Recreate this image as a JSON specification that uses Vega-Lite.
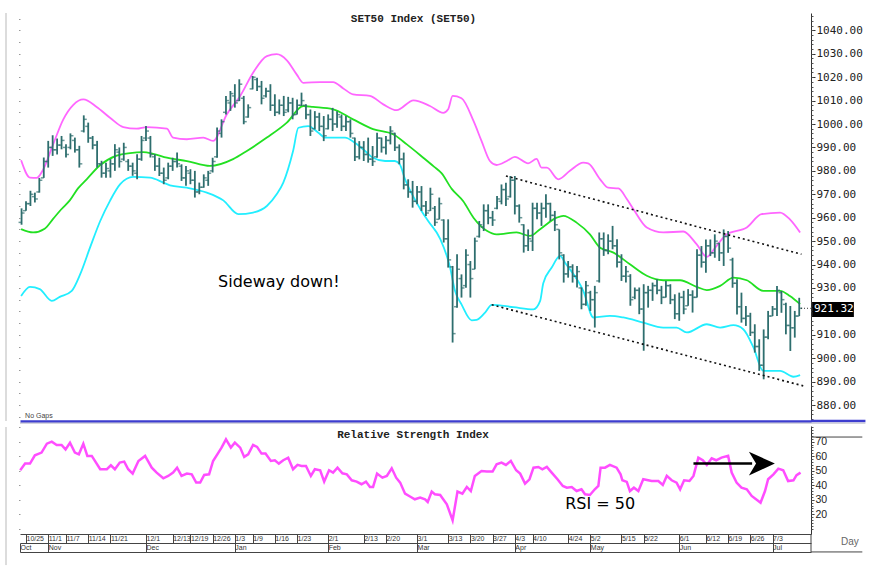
{
"$schema": "https://vega.github.io/schema/vega-lite/v6.json",
"background": "white",
"padding": {"left": 5, "top": 12, "right": 5, "bottom": 2},
"spacing": 2,
"config": {"view": {"stroke": null}, "axis": {"grid": false}},
"datasets": {
"ohlc": [
{"i":0,"o":958,"h":964,"l":957,"c":962},{"i":1,"o":963,"h":967,"l":963,"c":966},{"i":2,"o":966,"h":971.5,"l":965,"c":970},{"i":3,"o":969,"h":970.7,"l":966.5,"c":968},{"i":4,"o":971,"h":977,"l":970.7,"c":976},{"i":5,"o":977,"h":985.7,"l":977,"c":984},{"i":6,"o":984,"h":992.8,"l":981.4,"c":990},{"i":7,"o":990,"h":995.2,"l":986.4,"c":989},{"i":8,"o":989,"h":993.8,"l":987,"c":991},{"i":9,"o":991,"h":994.9,"l":989.2,"c":993},
{"i":10,"o":990,"h":991.4,"l":985.7,"c":987},{"i":11,"o":990,"h":996,"l":989.2,"c":995},{"i":12,"o":993,"h":994.2,"l":987.8,"c":989},{"i":13,"o":989,"h":990.7,"l":981.4,"c":983},{"i":14,"o":997,"h":1003.7,"l":996.4,"c":1002},{"i":15,"o":999,"h":1000.6,"l":992,"c":994},{"i":16,"o":994,"h":994.9,"l":989.2,"c":991},{"i":17,"o":991,"h":992.8,"l":981.4,"c":983},{"i":18,"o":983,"h":984.3,"l":977.1,"c":979},{"i":19,"o":979,"h":983.5,"l":977.1,"c":981},
{"i":20,"o":980,"h":985,"l":977.1,"c":983},{"i":21,"o":983,"h":991.4,"l":980,"c":989},{"i":22,"o":988,"h":990,"l":981.4,"c":984},{"i":23,"o":985,"h":992,"l":984.3,"c":990},{"i":24,"o":984,"h":985,"l":980,"c":982},{"i":25,"o":982,"h":983.5,"l":977.9,"c":980},{"i":26,"o":979,"h":987.1,"l":976.4,"c":985},{"i":27,"o":985,"h":994.9,"l":984.3,"c":993},{"i":28,"o":994,"h":999.2,"l":992.8,"c":997},{"i":29,"o":994,"h":994.9,"l":985.7,"c":987},
{"i":30,"o":986,"h":987.1,"l":980,"c":982},{"i":31,"o":982,"h":985.6,"l":977.8,"c":979},{"i":32,"o":979,"h":981.4,"l":974.3,"c":976},{"i":33,"o":977,"h":983.5,"l":976.4,"c":982},{"i":34,"o":982,"h":985.6,"l":980,"c":984},{"i":35,"o":984,"h":987.8,"l":981.4,"c":983},{"i":36,"o":982,"h":982.8,"l":975.7,"c":977},{"i":37,"o":977,"h":982.1,"l":973.6,"c":980},{"i":38,"o":979,"h":980.7,"l":974.3,"c":976},{"i":39,"o":976,"h":980,"l":968.6,"c":971},
{"i":40,"o":971,"h":975,"l":970,"c":973},{"i":41,"o":973,"h":978.5,"l":972.8,"c":977},{"i":42,"o":976,"h":980,"l":973.6,"c":979},{"i":43,"o":980,"h":985.6,"l":979.3,"c":984},{"i":44,"o":986,"h":998.5,"l":985.6,"c":997},{"i":45,"o":996,"h":1002,"l":994.2,"c":1001},{"i":46,"o":1005,"h":1012,"l":1004.1,"c":1010},{"i":47,"o":1009,"h":1014.1,"l":1005.6,"c":1013},{"i":48,"o":1012,"h":1017,"l":1007,"c":1009},{"i":49,"o":1010,"h":1019.1,"l":1009.8,"c":1017},
{"i":50,"o":1011,"h":1012,"l":999.9,"c":1001},{"i":51,"o":1003,"h":1008.4,"l":1002.7,"c":1007},{"i":52,"o":1015,"h":1020.5,"l":1014.8,"c":1020},{"i":53,"o":1019,"h":1019.8,"l":1014.1,"c":1016},{"i":54,"o":1016,"h":1018.4,"l":1008.4,"c":1011},{"i":55,"o":1012,"h":1015.5,"l":1011.3,"c":1014},{"i":56,"o":1014,"h":1017,"l":1005.6,"c":1008},{"i":57,"o":1008,"h":1012.7,"l":1003.4,"c":1005},{"i":58,"o":1005,"h":1010.5,"l":1004.1,"c":1008},{"i":59,"o":1008,"h":1012,"l":1003.4,"c":1005},
{"i":60,"o":1006,"h":1011.6,"l":1005,"c":1009},{"i":61,"o":1009,"h":1011.2,"l":1002,"c":1004},{"i":62,"o":1004.1,"h":1010.5,"l":1004.1,"c":1008},{"i":63,"o":1008,"h":1013.4,"l":1007.7,"c":1010},{"i":64,"o":1008,"h":1008.4,"l":1002,"c":1004},{"i":65,"o":1004,"h":1006.2,"l":994.9,"c":997},{"i":66,"o":998,"h":1005.5,"l":997.7,"c":1003},{"i":67,"o":1003,"h":1004.8,"l":997,"c":999},{"i":68,"o":999,"h":1003.4,"l":992.7,"c":995},{"i":69,"o":998,"h":1004.1,"l":997.7,"c":1002},
{"i":70,"o":1002,"h":1006.9,"l":997,"c":1000},{"i":71,"o":1000,"h":1005.5,"l":998.4,"c":1004},{"i":72,"o":1003,"h":1004.1,"l":997,"c":999},{"i":73,"o":999,"h":1003.4,"l":997,"c":1001},{"i":74,"o":1001,"h":1002,"l":994.2,"c":996},{"i":75,"o":994,"h":994.2,"l":984.2,"c":986},{"i":76,"o":986,"h":992.7,"l":984.9,"c":990},{"i":77,"o":990,"h":992.7,"l":984.2,"c":987},{"i":78,"o":987,"h":994.2,"l":983.5,"c":985},{"i":79,"o":985,"h":990.6,"l":982.1,"c":984},
{"i":80,"o":986,"h":996.3,"l":985.6,"c":994},{"i":81,"o":994,"h":994.2,"l":987.8,"c":990},{"i":82,"o":990,"h":994.9,"l":987,"c":993},{"i":83,"o":993,"h":999.1,"l":991.3,"c":997},{"i":84,"o":996,"h":996.3,"l":988.5,"c":990},{"i":85,"o":990,"h":991.3,"l":982.8,"c":985},{"i":86,"o":985,"h":987.8,"l":972.1,"c":974},{"i":87,"o":974,"h":976.4,"l":968.5,"c":971},{"i":88,"o":971,"h":975.7,"l":964.3,"c":967},{"i":89,"o":967,"h":973.5,"l":965.7,"c":971},
{"i":90,"o":971,"h":973.5,"l":962.9,"c":965},{"i":91,"o":965,"h":967.1,"l":960.7,"c":962},{"i":92,"o":963,"h":972.8,"l":962.9,"c":970},{"i":93,"o":964,"h":965,"l":956.5,"c":958},{"i":94,"o":959.3,"h":968.6,"l":959.3,"c":966},{"i":95,"o":959,"h":959.3,"l":949.4,"c":951},{"i":96,"o":951,"h":959.3,"l":938.7,"c":942},{"i":97,"o":939,"h":939.4,"l":906.7,"c":910.5},{"i":98,"o":922,"h":944.4,"l":921.6,"c":938},{"i":99,"o":934,"h":935.8,"l":925.9,"c":930},
{"i":100,"o":931,"h":946.5,"l":930.1,"c":944},{"i":101,"o":940,"h":941.5,"l":925.9,"c":934},{"i":102,"o":938,"h":951.5,"l":938,"c":950},{"i":103,"o":952,"h":958.6,"l":951.5,"c":957},{"i":104,"o":956,"h":965.7,"l":954.3,"c":963},{"i":105,"o":963,"h":965.7,"l":957.2,"c":960},{"i":106,"o":960,"h":962.9,"l":956.5,"c":959},{"i":107,"o":964,"h":969.3,"l":963.6,"c":968},{"i":108,"o":967,"h":974.2,"l":965.7,"c":972},{"i":109,"o":972,"h":974.9,"l":965,"c":968},
{"i":110,"o":969,"h":977.8,"l":968.6,"c":976},{"i":111,"o":976,"h":977.8,"l":961.4,"c":965},{"i":112,"o":965,"h":965.7,"l":957.9,"c":960},{"i":113,"o":957,"h":957.2,"l":945.1,"c":948},{"i":114,"o":948,"h":955,"l":945.8,"c":951},{"i":115,"o":950,"h":966.4,"l":945.8,"c":964},{"i":116,"o":964,"h":966.4,"l":959.3,"c":962},{"i":117,"o":962,"h":966.4,"l":956.5,"c":964},{"i":118,"o":964,"h":970,"l":960,"c":966},{"i":119,"o":966,"h":966.4,"l":958.6,"c":961},
{"i":120,"o":961,"h":962.9,"l":954.3,"c":957},{"i":121,"o":955,"h":955,"l":942.2,"c":945},{"i":122,"o":944,"h":944.4,"l":932.3,"c":936},{"i":123,"o":936,"h":941.5,"l":934.4,"c":939},{"i":124,"o":939,"h":940.1,"l":932.3,"c":935},{"i":125,"o":935,"h":939.4,"l":930.2,"c":937},{"i":126,"o":930,"h":930.2,"l":920.9,"c":923},{"i":127,"o":923,"h":933,"l":922.4,"c":931},{"i":128,"o":928,"h":928.8,"l":920.2,"c":925},{"i":129,"o":925,"h":930.9,"l":913.1,"c":928},
{"i":130,"o":933,"h":953.7,"l":932.3,"c":951},{"i":131,"o":951,"h":953.7,"l":943.7,"c":946},{"i":132,"o":946,"h":952.9,"l":944.4,"c":950},{"i":133,"o":950,"h":956.5,"l":946.5,"c":948},{"i":134,"o":948,"h":950.8,"l":938.7,"c":941},{"i":135,"o":941,"h":944.4,"l":933,"c":935},{"i":136,"o":935,"h":939.4,"l":932.3,"c":937},{"i":137,"o":935,"h":935.9,"l":922.4,"c":925},{"i":138,"o":926,"h":930.2,"l":925.2,"c":929},{"i":139,"o":929,"h":930.2,"l":918.8,"c":921},
{"i":140,"o":921,"h":931.6,"l":903.2,"c":928},{"i":141,"o":928,"h":930.9,"l":921.6,"c":929},{"i":142,"o":929,"h":932.3,"l":924.5,"c":931},{"i":143,"o":931,"h":933.7,"l":927.3,"c":929},{"i":144,"o":929,"h":930.9,"l":923.1,"c":926},{"i":145,"o":926,"h":933,"l":925.9,"c":931},{"i":146,"o":931,"h":931.6,"l":923.1,"c":925},{"i":147,"o":925,"h":927.3,"l":916.7,"c":919},{"i":148,"o":919,"h":928,"l":916,"c":926},{"i":149,"o":926,"h":928.8,"l":918.8,"c":921},
{"i":150,"o":922.4,"h":929.5,"l":922.4,"c":927},{"i":151,"o":927,"h":929,"l":919.5,"c":926},{"i":152,"o":926,"h":946.5,"l":925.9,"c":944},{"i":153,"o":944,"h":947.9,"l":938.7,"c":941},{"i":154,"o":941,"h":950.7,"l":936.5,"c":948},{"i":155,"o":948,"h":950.7,"l":943.6,"c":945},{"i":156,"o":945,"h":952.9,"l":942.9,"c":950},{"i":157,"o":949,"h":949.3,"l":941.5,"c":945},{"i":158,"o":945,"h":955,"l":939.4,"c":952},{"i":159,"o":952,"h":954.3,"l":945,"c":947},
{"i":160,"o":942,"h":942.9,"l":930.1,"c":932},{"i":161,"o":932,"h":933.7,"l":918.7,"c":922},{"i":162,"o":922,"h":928,"l":915.2,"c":917},{"i":163,"o":917,"h":922.3,"l":913.8,"c":918},{"i":164,"o":918,"h":919.4,"l":909.5,"c":911},{"i":165,"o":911,"h":914.5,"l":902.4,"c":905},{"i":166,"o":905,"h":908.1,"l":894.6,"c":897},{"i":167,"o":897,"h":912.3,"l":891,"c":909},{"i":168,"o":909,"h":920.2,"l":908.1,"c":918},{"i":169,"o":918,"h":922.3,"l":918,"c":921},
{"i":170,"o":921,"h":930.8,"l":918,"c":929},{"i":171,"o":928,"h":928.7,"l":919.4,"c":925},{"i":172,"o":923,"h":923.7,"l":910.2,"c":914},{"i":173,"o":914,"h":922.3,"l":903.1,"c":913},{"i":174,"o":913,"h":920.2,"l":908.8,"c":918},{"i":175,"o":918,"h":925.8,"l":918,"c":921.32}
],
"upper": [
{"i":-0.1,"v":984.5},{"i":1.9,"v":977.1},{"i":3.4,"v":977},{"i":4.9,"v":980.7},{"i":7.1,"v":991.3},{"i":9.4,"v":1002},{"i":11.6,"v":1008.1},{"i":13.9,"v":1010.5},{"i":16.9,"v":1007.3},{"i":19.9,"v":1002.7},{"i":22.9,"v":998.7},{"i":25.9,"v":998},{"i":28.2,"v":998.7},{"i":32.7,"v":998},{"i":34.1,"v":994.2},{"i":37.2,"v":993.5},{"i":40.9,"v":994.2},{"i":43.1,"v":992.8},{"i":46.2,"v":1004.2},{"i":49.2,"v":1012},{"i":52.1,"v":1021.9},{"i":55.2,"v":1029},{"i":57.4,"v":1029.8},{"i":59.7,"v":1027.2},{"i":61.9,"v":1021.2},{"i":63.4,"v":1017.6},{"i":67.2,"v":1017.9},{"i":70.1,"v":1017.9},{"i":72.4,"v":1015.2},{"i":74.6,"v":1012.7},{"i":78.4,"v":1012},{"i":81.4,"v":1008.4},{"i":84.4,"v":1005.9},{"i":88.2,"v":1010.1},{"i":91.9,"v":1007.7},{"i":94.9,"v":1004.8},{"i":96,"v":1006.3},{"i":97,"v":1012},{"i":99,"v":1011},{"i":101.7,"v":1001.3},{"i":103.5,"v":992.8},{"i":105.4,"v":984.2},{"i":106.9,"v":982.5},{"i":109.2,"v":984.2},{"i":111,"v":986},{"i":114,"v":983.2},{"i":115.9,"v":985.1},{"i":117,"v":981.4},{"i":118.2,"v":981.4},{"i":120.8,"v":976.4},{"i":123.4,"v":980},{"i":126.4,"v":983.5},{"i":127.5,"v":983.2},{"i":130.2,"v":976.4},{"i":132,"v":972.8},{"i":134.3,"v":972.5},{"i":136.2,"v":968},{"i":137.7,"v":963.6},{"i":140.7,"v":955.8},{"i":144.4,"v":953.7},{"i":148.9,"v":954.1},{"i":151.9,"v":948.7},{"i":154.2,"v":943.3},{"i":156.4,"v":948},{"i":158.7,"v":952.9},{"i":163.2,"v":955.8},{"i":166.5,"v":961.5},{"i":170.7,"v":962.2},{"i":172.9,"v":959.3},{"i":175.2,"v":953.7}
],
"mid": [
{"i":-0.1,"v":955.1},{"i":2.6,"v":953.7},{"i":5.2,"v":955.3},{"i":7.1,"v":959.5},{"i":8.9,"v":963.5},{"i":10.9,"v":967.5},{"i":12.7,"v":972.5},{"i":14.7,"v":976.5},{"i":17.7,"v":982.5},{"i":21.4,"v":986.5},{"i":24.4,"v":987.6},{"i":27.4,"v":988},{"i":29.6,"v":987.3},{"i":32.7,"v":985.6},{"i":37.2,"v":984.2},{"i":42.4,"v":982.1},{"i":47.6,"v":985},{"i":50.7,"v":988.5},{"i":55.2,"v":994.2},{"i":59.7,"v":1000.6},{"i":63.4,"v":1007.7},{"i":65.6,"v":1007.3},{"i":70.1,"v":1006.3},{"i":74.6,"v":1002},{"i":79.1,"v":997.8},{"i":83.6,"v":995.6},{"i":86.7,"v":991.3},{"i":90.4,"v":985.6},{"i":92.8,"v":981.8},{"i":94.5,"v":979},{"i":96.8,"v":972.3},{"i":99.4,"v":967},{"i":101.7,"v":960},{"i":104.7,"v":954.4},{"i":106.9,"v":952.9},{"i":111.4,"v":953.7},{"i":114.4,"v":952.2},{"i":116.7,"v":955.1},{"i":120.4,"v":960},{"i":121.9,"v":960.8},{"i":124.9,"v":957.9},{"i":127.9,"v":952.9},{"i":130.2,"v":947.2},{"i":133.2,"v":945.1},{"i":136.9,"v":940.1},{"i":140.7,"v":935.2},{"i":144.4,"v":933.3},{"i":148.2,"v":933.3},{"i":151.9,"v":930.5},{"i":154.2,"v":929.1},{"i":157.2,"v":930.9},{"i":160.2,"v":934.4},{"i":163.2,"v":933.3},{"i":166.9,"v":928.8},{"i":170.7,"v":928.8},{"i":172.9,"v":926.6},{"i":175.2,"v":923.1}
],
"lower": [
{"i":-0.1,"v":926.6},{"i":1.9,"v":930.5},{"i":4.1,"v":929.5},{"i":6.8,"v":924.5},{"i":8.6,"v":926.2},{"i":11.3,"v":928.8},{"i":13.2,"v":935.9},{"i":15.4,"v":947.2},{"i":17.7,"v":958.6},{"i":19.9,"v":967.2},{"i":22.2,"v":974.3},{"i":25.1,"v":977.4},{"i":28.9,"v":977.1},{"i":31.9,"v":975},{"i":33.4,"v":973.8},{"i":37.2,"v":972.8},{"i":41.7,"v":970.7},{"i":45.4,"v":967.4},{"i":48.8,"v":961.5},{"i":52.1,"v":962.2},{"i":55.2,"v":965},{"i":57.4,"v":970},{"i":58.9,"v":975},{"i":61.1,"v":988.5},{"i":62.3,"v":998.4},{"i":64.5,"v":999.1},{"i":66.8,"v":996.3},{"i":68.3,"v":994.2},{"i":72.8,"v":994.2},{"i":75,"v":992},{"i":77.3,"v":988.5},{"i":79.1,"v":985.6},{"i":81.8,"v":984.2},{"i":84,"v":984.2},{"i":85.1,"v":982.8},{"i":86.3,"v":976.4},{"i":88.5,"v":967.8},{"i":90,"v":962.9},{"i":91.5,"v":958.6},{"i":94.2,"v":951},{"i":96.4,"v":939},{"i":97.5,"v":929},{"i":99,"v":923},{"i":101.3,"v":916.2},{"i":102.4,"v":916.4},{"i":104.3,"v":919.5},{"i":105.8,"v":922.8},{"i":110.7,"v":921.8},{"i":115.2,"v":920.9},{"i":116.7,"v":924.5},{"i":117.4,"v":932},{"i":119.3,"v":938.7},{"i":121.2,"v":943.7},{"i":122.3,"v":940.8},{"i":126.4,"v":928.8},{"i":128.7,"v":917.4},{"i":132.4,"v":918.1},{"i":135.4,"v":917.4},{"i":139.9,"v":915.2},{"i":144.4,"v":913.1},{"i":147.4,"v":913.1},{"i":149.7,"v":911},{"i":154.2,"v":914.5},{"i":157.2,"v":913.1},{"i":160.2,"v":914.1},{"i":162.4,"v":912.4},{"i":164.7,"v":904.6},{"i":166.9,"v":894.6},{"i":170.7,"v":894.6},{"i":173.7,"v":892.1},{"i":175.2,"v":892.8}
],
"trend": [
{"g":"top","i":109,"v":977.8},{"g":"top","i":175.5,"v":944.4},{"g":"bot","i":105.8,"v":922.8},{"g":"bot","i":175.9,"v":888.2}
],
"rsi": [
{"i":-0.3,"v":50.3},{"i":0.8,"v":54.9},{"i":1.9,"v":54.9},{"i":3,"v":60.6},{"i":4.5,"v":62.5},{"i":5.7,"v":68.6},{"i":6.8,"v":70},{"i":7.9,"v":67.7},{"i":9,"v":67.7},{"i":9.9,"v":64.7},{"i":10.9,"v":69.3},{"i":12,"v":62.5},{"i":12.9,"v":61.3},{"i":13.9,"v":68.6},{"i":14.8,"v":60.2},{"i":15.8,"v":60.2},{"i":17.7,"v":51},{"i":19.2,"v":51},{"i":20.1,"v":53.7},{"i":21,"v":51},{"i":22.1,"v":55.6},{"i":23.1,"v":56.3},{"i":24,"v":51},{"i":25,"v":48},{"i":26.3,"v":56.7},{"i":27.8,"v":60.2},{"i":29.3,"v":52.1},{"i":30.4,"v":48.7},{"i":31.9,"v":44.8},{"i":33,"v":46.4},{"i":34.1,"v":48.7},{"i":35,"v":52.1},{"i":36,"v":46.4},{"i":37.2,"v":48},{"i":38.3,"v":47.5},{"i":39.3,"v":41.8},{"i":40.2,"v":41.8},{"i":41.1,"v":47.1},{"i":42.2,"v":47.5},{"i":43.1,"v":56.7},{"i":44.3,"v":62.5},{"i":45,"v":65.9},{"i":46,"v":71.6},{"i":47.1,"v":65.9},{"i":48,"v":69.3},{"i":49.2,"v":65.9},{"i":50.1,"v":59.5},{"i":51,"v":61.3},{"i":52.1,"v":67.7},{"i":53,"v":66.4},{"i":54,"v":61.8},{"i":54.9,"v":61.8},{"i":56.1,"v":56.7},{"i":57,"v":57.2},{"i":57.9,"v":54.9},{"i":58.9,"v":57.2},{"i":60,"v":59},{"i":61.1,"v":51},{"i":62.1,"v":54},{"i":63,"v":53.3},{"i":64,"v":53.3},{"i":65.1,"v":46.4},{"i":66,"v":51},{"i":67.2,"v":50.3},{"i":68.1,"v":42.5},{"i":69.2,"v":50.3},{"i":70.1,"v":48.7},{"i":71.1,"v":52.1},{"i":72.2,"v":48.2},{"i":73.2,"v":47.5},{"i":74.3,"v":43.4},{"i":75.4,"v":42.5},{"i":76.5,"v":40.7},{"i":77.5,"v":42.5},{"i":78.4,"v":38.8},{"i":79.1,"v":38.8},{"i":80,"v":48},{"i":81.2,"v":45.2},{"i":82.2,"v":46.4},{"i":83.3,"v":51.7},{"i":84.3,"v":45.2},{"i":85.2,"v":41.8},{"i":86.3,"v":34.2},{"i":87.6,"v":31.9},{"i":88.5,"v":30.3},{"i":89.7,"v":31.5},{"i":90.8,"v":30.3},{"i":91.4,"v":28.5},{"i":92.3,"v":35.6},{"i":93,"v":33.8},{"i":94.2,"v":33.3},{"i":95.7,"v":26.9},{"i":97,"v":15.8},{"i":98.1,"v":35.6},{"i":99.2,"v":34.2},{"i":100.2,"v":38.8},{"i":101.1,"v":36},{"i":102,"v":46.4},{"i":103.5,"v":49.8},{"i":104.7,"v":49.4},{"i":106,"v":49.4},{"i":106.9,"v":54.4},{"i":108,"v":55.6},{"i":109,"v":54},{"i":110.1,"v":56.7},{"i":111.3,"v":50.3},{"i":112.2,"v":48},{"i":113.3,"v":41.1},{"i":114.3,"v":44.1},{"i":115.2,"v":52.1},{"i":116.3,"v":52.6},{"i":117.2,"v":51},{"i":118.2,"v":52.6},{"i":119.3,"v":48.7},{"i":120.6,"v":44.1},{"i":121.8,"v":39.5},{"i":122.7,"v":38.3},{"i":123.8,"v":38.8},{"i":124.9,"v":36},{"i":126,"v":37.2},{"i":126.8,"v":33.8},{"i":127.9,"v":33.3},{"i":129,"v":37.2},{"i":129.8,"v":39.5},{"i":130.3,"v":52.1},{"i":131.3,"v":52.1},{"i":132.4,"v":54},{"i":133.9,"v":52.1},{"i":134.8,"v":47.5},{"i":135.2,"v":43.4},{"i":136.2,"v":42.3},{"i":136.9,"v":36},{"i":137.8,"v":38.3},{"i":138.8,"v":36},{"i":139.9,"v":44.1},{"i":141.8,"v":42.9},{"i":143.3,"v":42.9},{"i":144.3,"v":40.2},{"i":145.2,"v":46.4},{"i":146.3,"v":43.4},{"i":147.4,"v":41.8},{"i":148.2,"v":37.2},{"i":149.1,"v":43.4},{"i":150.3,"v":42.9},{"i":151.2,"v":46.4},{"i":152.3,"v":59},{"i":153.3,"v":57.2},{"i":154.2,"v":54},{"i":155.3,"v":58.5},{"i":156.3,"v":57.2},{"i":157.5,"v":59},{"i":159,"v":60.2},{"i":159.8,"v":48.7},{"i":160.9,"v":41.8},{"i":162,"v":38.3},{"i":163.2,"v":37.2},{"i":164.3,"v":32.6},{"i":165.8,"v":29.2},{"i":166.3,"v":28},{"i":167.3,"v":36},{"i":168,"v":44.1},{"i":169.2,"v":47.5},{"i":170.3,"v":51.4},{"i":171.4,"v":50.3},{"i":172.5,"v":42.9},{"i":173.7,"v":43.4},{"i":174.4,"v":46.9},{"i":175.3,"v":48.7}
]
},
"vconcat": [
{
"width": 791, "height": 408,
"resolve": {"axis": {"x": "independent", "y": "independent"}},
"layer": [
{"data": {"name": "upper"}, "mark": {"type": "line", "color": "#ff66ff", "strokeWidth": 1.8, "interpolate": "monotone"},
 "encoding": {"x": {"field": "i", "type": "quantitative", "scale": {"domain": [-0.35, 177.65], "nice": false, "zero": false}, "axis": null},
  "y": {"field": "v", "type": "quantitative", "scale": {"domain": [873.2, 1047.4], "nice": false, "zero": false}, "axis": null}}},
{"data": {"name": "mid"}, "mark": {"type": "line", "color": "#22e022", "strokeWidth": 1.8, "interpolate": "monotone"},
 "encoding": {"x": {"field": "i", "type": "quantitative", "axis": null}, "y": {"field": "v", "type": "quantitative", "axis": null}}},
{"data": {"name": "lower"}, "mark": {"type": "line", "color": "#22eeff", "strokeWidth": 1.8, "interpolate": "monotone"},
 "encoding": {"x": {"field": "i", "type": "quantitative", "axis": null}, "y": {"field": "v", "type": "quantitative", "axis": null}}},
{"data": {"name": "ohlc"}, "mark": {"type": "rule", "color": "#2e6e6e", "strokeWidth": 1.8},
 "encoding": {"x": {"field": "i", "type": "quantitative", "axis": {"orient": "bottom", "domain": true, "domainColor": "#3d3dcf", "domainWidth": 2.5, "ticks": false, "labels": false, "title": null}},
  "y": {"field": "l", "type": "quantitative", "axis": {"orient": "right", "values": [880,890,900,910,930,940,950,960,970,980,990,1000,1010,1020,1030,1040], "format": ".2f", "title": null, "labelFont": "DejaVu Sans Mono", "labelFontSize": 11, "labelColor": "#222", "tickSize": 4, "tickColor": "#333", "domainColor": "#333", "labelPadding": 1}},
  "y2": {"field": "h"}}},
{"data": {"name": "ohlc"}, "mark": {"type": "tick", "orient": "horizontal", "color": "#2e6e6e", "size": 3, "thickness": 1.5, "xOffset": -1.5},
 "encoding": {"x": {"field": "i", "type": "quantitative", "axis": null},
  "y": {"field": "o", "type": "quantitative", "axis": {"orient": "right", "values": [874,876,878,880,882,884,886,888,890,892,894,896,898,900,902,904,906,908,910,912,914,916,918,920,922,924,926,928,930,932,934,936,938,940,942,944,946,948,950,952,954,956,958,960,962,964,966,968,970,972,974,976,978,980,982,984,986,988,990,992,994,996,998,1000,1002,1004,1006,1008,1010,1012,1014,1016,1018,1020,1022,1024,1026,1028,1030,1032,1034,1036,1038,1040,1042,1044,1046], "labels": false, "domain": false, "tickSize": 2, "tickColor": "#555", "title": null}}}},
{"data": {"name": "ohlc"}, "mark": {"type": "tick", "orient": "horizontal", "color": "#2e6e6e", "size": 3, "thickness": 1.5, "xOffset": 1.5},
 "encoding": {"x": {"field": "i", "type": "quantitative", "axis": null},
  "y": {"field": "c", "type": "quantitative", "axis": {"orient": "left", "values": [875,880,885,890,895,900,905,910,915,920,925,930,935,940,945,950,955,960,965,970,975,980,985,990,995,1000,1005,1010,1015,1020,1025,1030,1035,1040,1045], "labels": false, "domain": false, "tickSize": 1.5, "tickColor": "#999", "title": null}}}},
{"data": {"name": "trend"}, "mark": {"type": "line", "color": "#111", "strokeWidth": 1.6, "strokeDash": [2, 3]},
 "encoding": {"x": {"field": "i", "type": "quantitative", "axis": null}, "y": {"field": "v", "type": "quantitative", "axis": null}, "detail": {"field": "g"}}},
{"data": {"values": [{"i": 175.4, "i2": 177.6, "v": 921.32}]}, "mark": {"type": "rule", "color": "#333", "strokeWidth": 1, "strokeDash": [1, 2]},
 "encoding": {"x": {"field": "i", "type": "quantitative", "axis": null}, "x2": {"field": "i2"}, "y": {"field": "v", "type": "quantitative", "axis": null}}},
{"data": {"values": [{"i": 177.65, "i2": 189.9, "v": 873.2, "c": "#3d3dcf", "w": 2.5}, {"i": -0.35, "i2": 189.9, "v": 872.3, "c": "#b8b8c8", "w": 1}]}, "mark": {"type": "rule"},
 "encoding": {"x": {"field": "i", "type": "quantitative", "axis": null}, "x2": {"field": "i2"}, "y": {"field": "v", "type": "quantitative", "axis": null},
  "color": {"field": "c", "type": "nominal", "scale": null, "legend": null}, "strokeWidth": {"field": "w", "type": "quantitative", "scale": null, "legend": null}}},
{"data": {"values": [{"i": -3.5, "v1": 1047.4, "v2": 873.2}]}, "mark": {"type": "rule", "color": "#dcdcdc", "strokeWidth": 2},
 "encoding": {"x": {"field": "i", "type": "quantitative", "axis": null}, "y": {"field": "v1", "type": "quantitative", "axis": null}, "y2": {"field": "v2"}}},
{"data": {"values": [{"i": 177.9, "i2": 187.3, "y1": 917.6, "y2": 924.0}]}, "mark": {"type": "rect", "color": "#000"},
 "encoding": {"x": {"field": "i", "type": "quantitative", "axis": null}, "x2": {"field": "i2"}, "y": {"field": "y1", "type": "quantitative", "axis": null}, "y2": {"field": "y2"}}},
{"data": {"values": [{"i": 178.3, "v": 921.0, "t": "921.32"}]}, "mark": {"type": "text", "align": "left", "baseline": "middle", "color": "white", "font": "DejaVu Sans Mono", "fontSize": 11},
 "encoding": {"x": {"field": "i", "type": "quantitative", "axis": null}, "y": {"field": "v", "type": "quantitative", "axis": null}, "text": {"field": "t"}}},
{"data": {"values": [{"i": 88.2, "v": 1044.8, "t": "SET50 Index (SET50)"}]}, "mark": {"type": "text", "align": "center", "baseline": "middle", "color": "#222", "font": "Liberation Mono", "fontSize": 11, "fontWeight": "bold"},
 "encoding": {"x": {"field": "i", "type": "quantitative", "axis": null}, "y": {"field": "v", "type": "quantitative", "axis": null}, "text": {"field": "t"}}},
{"data": {"values": [{"i": 57.9, "v": 932.6, "t": "Sideway down!"}]}, "mark": {"type": "text", "align": "center", "baseline": "middle", "color": "#000", "font": "DejaVu Sans", "fontSize": 16},
 "encoding": {"x": {"field": "i", "type": "quantitative", "axis": null}, "y": {"field": "v", "type": "quantitative", "axis": null}, "text": {"field": "t"}}},
{"data": {"values": [{"i": 0.8, "v": 875.3, "t": "No Gaps"}]}, "mark": {"type": "text", "align": "left", "baseline": "middle", "color": "#444", "font": "Liberation Sans", "fontSize": 7},
 "encoding": {"x": {"field": "i", "type": "quantitative", "axis": null}, "y": {"field": "v", "type": "quantitative", "axis": null}, "text": {"field": "t"}}}
]
},
{
"width": 791, "height": 108,
"resolve": {"axis": {"x": "independent", "y": "independent"}},
"layer": [
{"data": {"name": "rsi"}, "mark": {"type": "line", "color": "#ff4dff", "strokeWidth": 2.5},
 "encoding": {"x": {"field": "i", "type": "quantitative", "scale": {"domain": [-0.35, 177.65], "nice": false, "zero": false},
   "axis": {"orient": "bottom", "title": null, "values": [1,6,10,15,20,28,34,38,43,48,52,57,62,69,77,82,89,96,101,106,111,115,123,128,135,140,148,154,159,164,169],
    "labelExpr": "['10/25','11/1','11/7','11/14','11/21','12/1','12/13','12/19','12/26','1/3','1/9','1/16','1/23','2/1','2/13','2/20','3/1','3/13','3/20','3/27','4/3','4/10','4/24','5/2','5/15','5/22','6/1','6/12','6/19','6/26','7/3'][indexof([1,6,10,15,20,28,34,38,43,48,52,57,62,69,77,82,89,96,101,106,111,115,123,128,135,140,148,154,159,164,169], datum.value)]",
    "tickSize": 9, "tickColor": "#444", "domainColor": "#444", "labelPadding": -9, "labelAlign": "left", "labelBaseline": "top", "labelDx": 1, "labelFontSize": 7, "labelFont": "Liberation Sans", "labelColor": "#333", "labelFlush": false, "labelOverlap": false, "labelBound": false}},
  "y": {"field": "v", "type": "quantitative", "scale": {"domain": [6.4, 80.8], "nice": false, "zero": false},
   "axis": {"orient": "right", "values": [20,30,40,50,60,70], "title": null, "labelFont": "Liberation Sans", "labelFontSize": 10.5, "labelColor": "#222", "tickSize": 3, "tickColor": "#333", "domainColor": "#333", "labelPadding": 1}}}},
{"data": {"values": [{"i": 130.2, "v": 27.1, "t": "RSI = 50"}]}, "mark": {"type": "text", "align": "center", "baseline": "middle", "color": "#000", "font": "DejaVu Sans", "fontSize": 16},
 "encoding": {"x": {"field": "i", "type": "quantitative",
   "axis": {"orient": "bottom", "offset": 9, "title": null, "values": [-0.35,6,28,48,69,89,111,128,148,169],
    "labelExpr": "['Oct','Nov','Dec','Jan','Feb','Mar','Apr','May','Jun','Jul'][indexof([-0.35,6,28,48,69,89,111,128,148,169], datum.value)]",
    "tickSize": 9, "tickColor": "#444", "domainColor": "#444", "labelPadding": -9, "labelAlign": "left", "labelBaseline": "top", "labelDx": 1, "labelFontSize": 7, "labelFont": "Liberation Sans", "labelColor": "#333", "labelFlush": false, "labelOverlap": false, "labelBound": false}},
  "y": {"field": "v", "type": "quantitative", "axis": {"orient": "right", "values": [10,12,14,16,18,20,22,24,26,28,30,32,34,36,38,40,42,44,46,48,50,52,54,56,58,60,62,64,66,68,70,72,74,76,78,80], "labels": false, "domain": false, "tickSize": 2, "tickColor": "#555", "title": null}},
  "text": {"field": "t"}}},
{"data": {"values": [{"i": 151.2, "i2": 164.4, "v": 54.9}]}, "mark": {"type": "rule", "color": "#000", "strokeWidth": 2.5},
 "encoding": {"x": {"field": "i", "type": "quantitative", "axis": {"orient": "bottom", "offset": 18, "title": null, "ticks": false, "labels": false, "domainColor": "#444"}},
  "x2": {"field": "i2"},
  "y": {"field": "v", "type": "quantitative", "axis": {"orient": "left", "values": [10,20,30,40,50,60,70,80], "labels": false, "domain": false, "tickSize": 1.5, "tickColor": "#999", "title": null}}}},
{"data": {"values": [{"i": 177.65, "i2": 189.2, "v": 73.2}, {"i": 177.65, "i2": 189.2, "v": -5.96}]}, "mark": {"type": "rule", "color": "#444", "strokeWidth": 1},
 "encoding": {"x": {"field": "i", "type": "quantitative", "axis": null}, "x2": {"field": "i2"}, "y": {"field": "v", "type": "quantitative", "axis": null}}},
{"data": {"values": [{"i": 177.65, "v1": 6.4, "v2": -5.96, "c": "#444", "w": 1}, {"i": -3.5, "v1": 80.1, "v2": -15, "c": "#dcdcdc", "w": 2}]}, "mark": {"type": "rule"},
 "encoding": {"x": {"field": "i", "type": "quantitative", "axis": null}, "y": {"field": "v1", "type": "quantitative", "axis": null}, "y2": {"field": "v2"},
  "color": {"field": "c", "type": "nominal", "scale": null, "legend": null}, "strokeWidth": {"field": "w", "type": "quantitative", "scale": null, "legend": null}}},
{"data": {"values": [{"i": 166.6, "v": 54.9}]}, "mark": {"type": "point", "shape": "M 1 0 L -1 -0.92 L -0.45 0 L -1 0.92 Z", "size": 676, "filled": true, "color": "#000", "opacity": 1},
 "encoding": {"x": {"field": "i", "type": "quantitative", "axis": null}, "y": {"field": "v", "type": "quantitative", "axis": null}}},
{"data": {"values": [{"i": 88.1, "v": 74.6, "t": "Relative Strength Index"}]}, "mark": {"type": "text", "align": "center", "baseline": "middle", "color": "#222", "font": "Liberation Mono", "fontSize": 11, "fontWeight": "bold"},
 "encoding": {"x": {"field": "i", "type": "quantitative", "axis": null}, "y": {"field": "v", "type": "quantitative", "axis": null}, "text": {"field": "t"}}},
{"data": {"values": [{"i": 186.4, "v": 0.9, "t": "Day"}]}, "mark": {"type": "text", "align": "center", "baseline": "middle", "color": "#666", "font": "Liberation Sans", "fontSize": 10},
 "encoding": {"x": {"field": "i", "type": "quantitative", "axis": null}, "y": {"field": "v", "type": "quantitative", "axis": null}, "text": {"field": "t"}}}
]
}
]
}
